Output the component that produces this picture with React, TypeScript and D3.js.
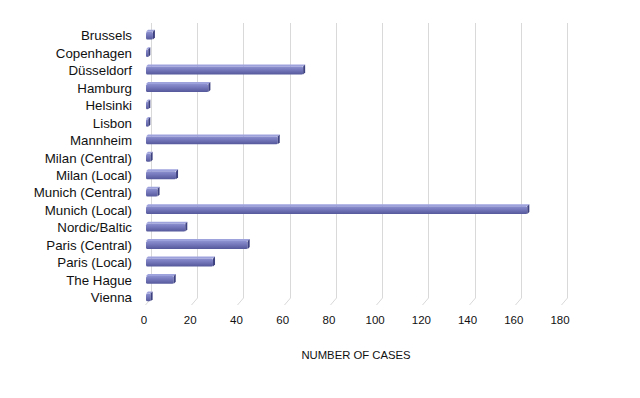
import { useEffect, useRef } from "react"
import * as d3 from "d3"

const categories = [
  "Brussels",
  "Copenhagen",
  "Düsseldorf",
  "Hamburg",
  "Helsinki",
  "Lisbon",
  "Mannheim",
  "Milan (Central)",
  "Milan (Local)",
  "Munich (Central)",
  "Munich (Local)",
  "Nordic/Baltic",
  "Paris (Central)",
  "Paris (Local)",
  "The Hague",
  "Vienna",
]
const cases = [3, 1, 68, 27, 1, 1, 57, 2, 13, 5, 165, 17, 44, 29, 12, 2]
const ticks = [0, 20, 40, 60, 80, 100, 120, 140, 160, 180]
const axisTitle = "NUMBER OF CASES"

export default function App() {
  const svgRef = useRef<SVGSVGElement>(null)

  useEffect(() => {
    if (!svgRef.current) return
    const svg = d3.select(svgRef.current)
    svg.selectAll("*").remove()

    const width = 640
    const height = 398
    svg.attr("width", width).attr("height", height)

    // 3d offset of the back wall
    const dx = 5
    const dy = -7

    const x = d3.scaleLinear().domain([0, 180]).range([146, 562])
    const y = d3
      .scaleBand()
      .domain(categories)
      .range([27, 306])
      .paddingInner(0.55)
      .paddingOuter(0.27)

    const defs = svg.append("defs")
    const grad = defs
      .append("linearGradient")
      .attr("id", "barGrad")
      .attr("x1", 0)
      .attr("y1", 0)
      .attr("x2", 0)
      .attr("y2", 1)
    grad.append("stop").attr("offset", "0%").attr("stop-color", "#8c90d0")
    grad.append("stop").attr("offset", "45%").attr("stop-color", "#7478bb")
    grad.append("stop").attr("offset", "100%").attr("stop-color", "#55599b")

    // Grid lines (back wall + floor diagonal)
    const bottom = 305
    const g = svg.append("g")
    g.selectAll(".grid")
      .data(ticks)
      .enter()
      .append("path")
      .attr("fill", "none")
      .attr("stroke", "#d9d9d9")
      .attr("stroke-width", 1)
      .attr("d", (d) => {
        const xb = Math.round(x(d) + dx) + 0.5
        return `M${xb},23 L${xb},${bottom + dy} L${xb - dx - 1},${bottom}`
      })

    // Bars
    const bh = y.bandwidth()
    const bars = g
      .selectAll(".bar")
      .data(cases)
      .enter()
      .append("g")
      .attr("transform", (_, i) => `translate(0,${y(categories[i])})`)

    // top face
    bars
      .append("path")
      .attr("fill", "#9ea2dc")
      .attr("d", (d) => {
        const x0 = x(0)
        const x1 = x(d)
        return `M${x0},0 L${x0 + 2},-2 L${x1 + 2},-2 L${x1},0 Z`
      })
    // front face
    bars
      .append("rect")
      .attr("x", x(0))
      .attr("y", 0)
      .attr("width", (d) => Math.max(1, x(d) - x(0)))
      .attr("height", bh)
      .attr("rx", 1.5)
      .attr("fill", "url(#barGrad)")
    // end cap
    bars
      .append("path")
      .attr("fill", "#3e4180")
      .attr("d", (d) => {
        const x1 = x(d)
        return `M${x1},0 L${x1 + 2},-2 L${x1 + 2},${bh - 2} L${x1},${bh} Z`
      })

    // Category labels
    svg
      .append("g")
      .selectAll("text")
      .data(categories)
      .enter()
      .append("text")
      .attr("x", 132)
      .attr("y", (d) => (y(d) ?? 0) + bh / 2)
      .attr("dy", "0.36em")
      .attr("text-anchor", "end")
      .attr("font-family", "Liberation Sans, Arial, sans-serif")
      .attr("font-size", 13.3)
      .attr("fill", "#111")
      .text((d) => d)

    // Tick labels
    svg
      .append("g")
      .selectAll("text")
      .data(ticks)
      .enter()
      .append("text")
      .attr("x", (d) => x(d) - 2)
      .attr("y", 324)
      .attr("text-anchor", "middle")
      .attr("font-family", "Liberation Sans, Arial, sans-serif")
      .attr("font-size", 11.5)
      .attr("fill", "#111")
      .text((d) => d)

    // Axis title
    svg
      .append("text")
      .attr("x", 356)
      .attr("y", 359)
      .attr("text-anchor", "middle")
      .attr("font-family", "Liberation Sans, Arial, sans-serif")
      .attr("font-size", 11.3)
      .attr("fill", "#111")
      .text(axisTitle)
  }, [])

  return (
    <div style={{ position: "fixed", left: 0, top: 0, width: 640, height: 398, background: "#fff" }}>
      <svg ref={svgRef} style={{ display: "block" }} />
    </div>
  )
}
